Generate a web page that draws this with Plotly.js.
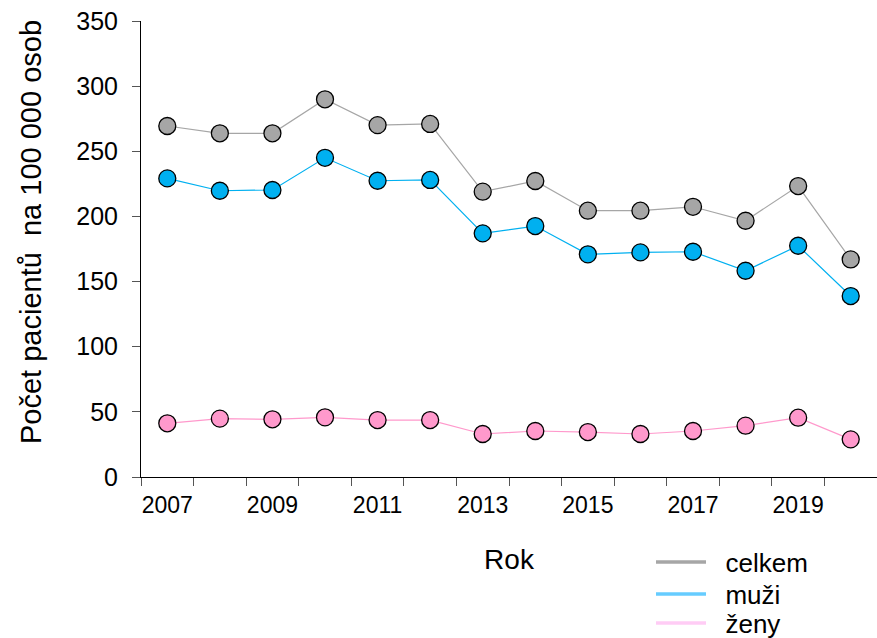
<!DOCTYPE html>
<html>
<head>
<meta charset="utf-8">
<script src="https://cdn.plot.ly/plotly-3.0.1.min.js"></script>
<style>html,body{margin:0;padding:0;background:#fff;}#chart{width:877px;height:638px;}</style>
</head>
<body>
<div id="chart"></div>
<script>
const years = [2007,2008,2009,2010,2011,2012,2013,2014,2015,2016,2017,2018,2019,2020];
const celkem = [269.4,263.8,263.8,289.9,270.1,271.0,219.0,227.2,204.4,204.4,207.4,196.7,223.3,167.0];
const muzi = [229.2,219.7,220.3,245.0,227.4,228.0,187.0,192.6,170.9,172.4,172.9,158.3,177.5,138.9];
const zeny = [41.2,44.8,44.3,45.8,43.7,43.7,33.0,35.3,34.5,33.0,35.3,39.4,45.5,28.9];
const tickLabelYears = [2007,2009,2011,2013,2015,2017,2019];
const tickBoundaries = [2006.5,2007.5,2008.5,2009.5,2010.5,2011.5,2012.5,2013.5,2014.5,2015.5,2016.5,2017.5,2018.5,2019.5];
const yTicks = [0,50,100,150,200,250,300,350];
const seriesNames = ['celkem','muži','ženy'];
const yTitle = 'Počet pacientů  na 100 000 osob';
const xTitle = 'Rok';

const font = 'Liberation Sans, Arial, sans-serif';
function dataTrace(y, lineColor, fillColor){
  return {x: years, y: y, type:'scatter', mode:'lines+markers', showlegend:false, hoverinfo:'x+y',
    line:{color:lineColor, width:1.2},
    marker:{size:17, color:fillColor, line:{color:'#000', width:1.3}}};
}
function legendTrace(name, color, legendId){
  return {x:[null], y:[null], type:'scatter', mode:'lines', name:'\u00a0\u00a0' + name, showlegend:true,
    legend:legendId, line:{color:color, width:3.5}};
}
const traces = [
  dataTrace(celkem, '#a6a6a6', '#a6a6a6'),
  dataTrace(muzi, '#00b0f0', '#00b0f0'),
  dataTrace(zeny, '#ff99cc', '#ff99cc'),
  legendTrace(seriesNames[0], '#a6a6a6', 'legend'),
  legendTrace(seriesNames[1], '#66ccff', 'legend2'),
  legendTrace(seriesNames[2], '#ffccf5', 'legend3'),
  {x: tickBoundaries, y: tickBoundaries.map(()=>null), xaxis:'x2', type:'scatter', mode:'lines', showlegend:false, hoverinfo:'skip'}
];
function legendBox(yPx){
  return {x:(651-141)/736, xanchor:'left', y:(477-yPx)/456, yanchor:'middle', orientation:'v',
    bgcolor:'rgba(0,0,0,0)', font:{size:26, family:font}, itemwidth:50};
}
const layout = {
  width:877, height:638,
  margin:{l:141, r:0, t:21, b:161, autoexpand:false},
  paper_bgcolor:'#fff', plot_bgcolor:'#fff',
  font:{family:font, color:'#000'},
  showlegend:true,
  xaxis:{range:[2006.5,2020.5], tickmode:'array', tickvals:tickLabelYears, ticktext:tickLabelYears.map(String),
    ticks:'', showgrid:false, zeroline:false, showline:true, linecolor:'#000', linewidth:1,
    tickfont:{size:23, family:font}, ticklabelstandoff:7,
    title:{text:xTitle, font:{size:28, family:font}, standoff:32}},
  xaxis2:{overlaying:'x', range:[2006.5,2020.5], tickmode:'array', tickvals:tickBoundaries, ticks:'outside',
    ticklen:8, tickcolor:'#555', showticklabels:false, showgrid:false, zeroline:false, showline:false, anchor:'y', side:'bottom'},
  yaxis:{range:[0,350], tickmode:'array', tickvals:yTicks, ticks:'outside', ticklen:8,
    tickcolor:'#555', showgrid:false, zeroline:false, showline:true, linecolor:'#000', linewidth:1,
    tickfont:{size:25, family:font}, ticklabelstandoff:9},
  annotations:[{text:yTitle, textangle:-90, xref:'paper', yref:'paper', x:(31-141)/736, y:(477-232)/456,
    xanchor:'center', yanchor:'middle', showarrow:false, font:{size:29, family:font, color:'#000'}}],
  legend:legendBox(562),
  legend2:legendBox(594),
  legend3:legendBox(623)
};
Plotly.newPlot('chart', traces, layout, {displayModeBar:false, staticPlot:true});
</script>
</body>
</html>
